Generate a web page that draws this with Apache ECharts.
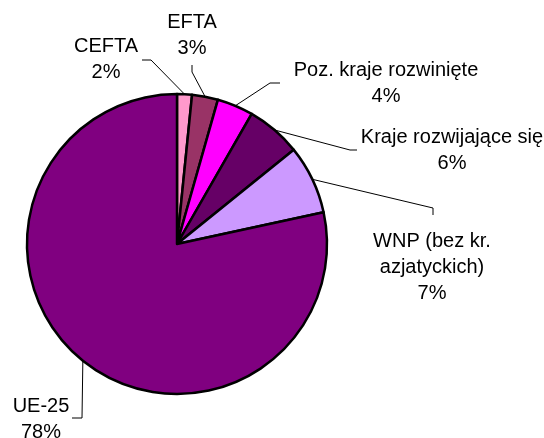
<!DOCTYPE html>
<html>
<head>
<meta charset="utf-8">
<script src="https://cdn.jsdelivr.net/npm/echarts@6/dist/echarts.min.js"></script>
<style>
  html, body { margin: 0; padding: 0; background: #fff; }
  #chart { width: 544px; height: 438px; }
</style>
</head>
<body>
<div id="chart"></div>
<script>
  // udział regionów (%)
  var regions = ['CEFTA', 'EFTA', 'Poz. kraje rozwinięte', 'Kraje rozwijające się', 'WNP (bez kr.\nazjatyckich)', 'UE-25'];
  var shares = [1.6, 2.8, 3.9, 5.9, 7.4, 78.4];
  var colors = ['#ff99cc', '#993366', '#ff00ff', '#660066', '#cc99ff', '#800080'];

  // gdzie stoją etykiety i jak biegnie linia odniesienia
  var labelSpots = [
    { x: 106, y: 59, bend: [151, 60], end: [142, 60] },
    { x: 192, y: 35, bend: [192, 72], end: [192, 65] },
    { x: 386, y: 83, bend: [270, 83], end: [280, 83] },
    { x: 452, y: 150, bend: [350, 150], end: [357, 150] },
    { x: 432, y: 267, bend: [433, 208], end: [433, 215] },
    { x: 41, y: 419, bend: [82, 418], end: [72, 418] }
  ];

  var pieData = regions.map(function (name, i) {
    return { name: name, value: shares[i], itemStyle: { color: colors[i] } };
  });

  var chart = echarts.init(document.getElementById('chart'));
  chart.setOption({
    backgroundColor: '#fff',
    animation: false,
    series: [{
      type: 'pie',
      center: [177, 244],
      radius: 150,
      startAngle: 90,
      clockwise: true,
      percentPrecision: 0,
      avoidLabelOverlap: false,
      data: pieData,
      itemStyle: { borderColor: '#000', borderWidth: 2.5 },
      emphasis: { disabled: true },
      label: {
        show: true,
        position: 'outside',
        formatter: '{b}\n{d}%',
        color: '#000',
        fontFamily: 'Liberation Sans, Arial, sans-serif',
        fontSize: 20,
        lineHeight: 26,
        align: 'center'
      },
      labelLine: {
        show: true,
        length: 10,
        length2: 10,
        lineStyle: { color: '#000', width: 1 }
      },
      labelLayout: function (params) {
        var s = labelSpots[params.dataIndex];
        var start = params.labelLinePoints ? params.labelLinePoints[0] : s.bend;
        return {
          x: s.x,
          y: s.y,
          align: 'center',
          verticalAlign: 'middle',
          labelLinePoints: [start, s.bend, s.end]
        };
      }
    }]
  });
</script>
</body>
</html>
